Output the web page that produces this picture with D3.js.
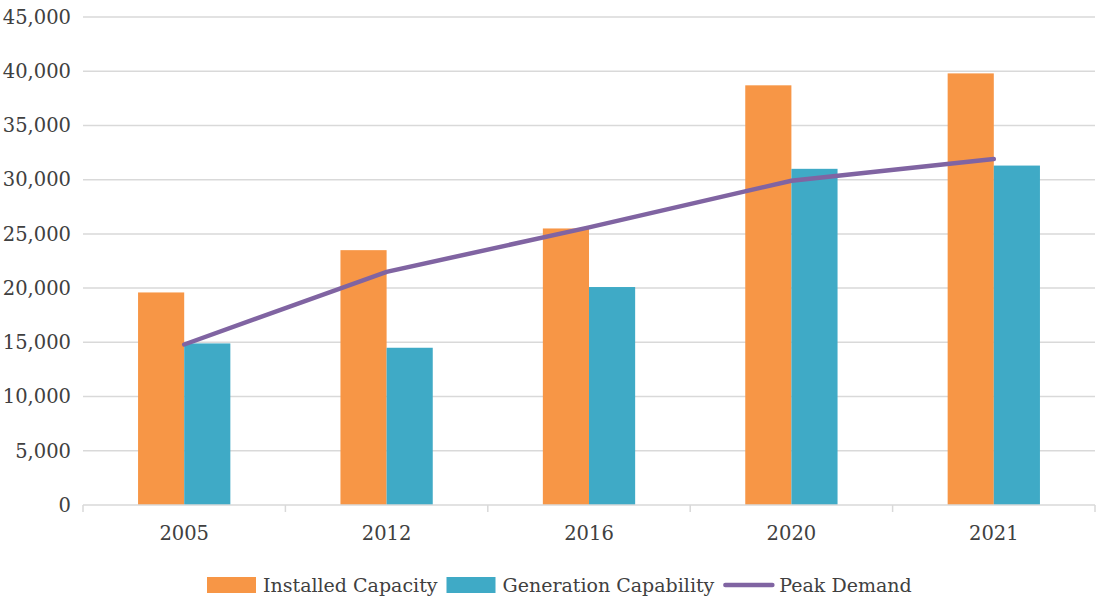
<!DOCTYPE html>
<html>
<head>
<meta charset="utf-8">
<script src="https://cdn.jsdelivr.net/npm/d3@7"></script>
<style>
  body { margin: 0; background: #fff; }
  text { font-family: "DejaVu Serif", serif; fill: #404040; }
</style>
</head>
<body>
<div id="chart"></div>
<script>
// data
var years = ["2005", "2012", "2016", "2020", "2021"];
var installed = [19600, 23500, 25500, 38700, 39800];
var generation = [14900, 14500, 20100, 31000, 31300];
var peak = [14800, 21500, 25600, 29900, 31900];
var yTicks = [0, 5000, 10000, 15000, 20000, 25000, 30000, 35000, 40000, 45000];
var seriesNames = ["Installed Capacity", "Generation Capability", "Peak Demand"];
var colors = ["#F79646", "#3FAAC6", "#8064A2"];

var W = 1102, H = 599;
var margin = {top: 17, right: 7, bottom: 94, left: 83};
var width = W - margin.left - margin.right,
    height = H - margin.top - margin.bottom;

var svg = d3.select("#chart").append("svg")
    .attr("width", W).attr("height", H);
var g = svg.append("g")
    .attr("transform", "translate(" + margin.left + "," + margin.top + ")");

var x = d3.scaleBand().domain(years).range([0, width]);
var y = d3.scaleLinear().domain([0, 45000]).range([height, 0]);
var barW = x.bandwidth() * 0.228;

// gridlines
g.selectAll(".grid").data(yTicks.slice(1)).enter().append("line")
    .attr("x1", 0).attr("x2", width)
    .attr("y1", d => y(d)).attr("y2", d => y(d))
    .attr("stroke", "#d9d9d9").attr("stroke-width", 1.5);

// y labels
g.selectAll(".ylab").data(yTicks).enter().append("text")
    .attr("x", -12).attr("y", d => y(d)).attr("dy", "0.35em")
    .attr("text-anchor", "end").style("font-size", "19.5px")
    .text(d => d3.format(",")(d));

// bars
var grp = g.selectAll(".yr").data(years).enter().append("g")
    .attr("transform", d => "translate(" + (x(d) + x.bandwidth() / 2) + ",0)");
grp.append("rect")
    .attr("x", -barW).attr("width", barW)
    .attr("y", (d, i) => y(installed[i])).attr("height", (d, i) => height - y(installed[i]))
    .attr("fill", colors[0]);
grp.append("rect")
    .attr("x", 0).attr("width", barW)
    .attr("y", (d, i) => y(generation[i])).attr("height", (d, i) => height - y(generation[i]))
    .attr("fill", colors[1]);

// x axis
var xAxis = g.append("g").attr("transform", "translate(0," + height + ")");
xAxis.append("line").attr("x1", 0).attr("x2", width)
    .attr("stroke", "#d9d9d9").attr("stroke-width", 1.5);
var bounds = years.map(d => x(d)).concat([width]);
xAxis.selectAll(".tk").data(bounds).enter().append("line")
    .attr("x1", d => d).attr("x2", d => d).attr("y1", 0).attr("y2", 7)
    .attr("stroke", "#d9d9d9").attr("stroke-width", 1.5);
xAxis.selectAll(".xlab").data(years).enter().append("text")
    .attr("x", d => x(d) + x.bandwidth() / 2).attr("y", 35)
    .attr("text-anchor", "middle").style("font-size", "19.5px")
    .text(d => d);

// peak demand line
var line = d3.line()
    .x((d, i) => x(years[i]) + x.bandwidth() / 2)
    .y(d => y(d));
g.append("path").datum(peak)
    .attr("d", line).attr("fill", "none")
    .attr("stroke", colors[2]).attr("stroke-width", 4.5)
    .attr("stroke-linecap", "round");

// legend
var leg = svg.append("g").attr("transform", "translate(0,585)");
var lx = 207;
seriesNames.forEach(function(name, i) {
  if (i < 2) {
    leg.append("rect").attr("x", lx).attr("y", -8).attr("width", 49).attr("height", 16)
        .attr("fill", colors[i]);
  } else {
    leg.append("line").attr("x1", lx + 2).attr("x2", lx + 49).attr("y1", 0).attr("y2", 0)
        .attr("stroke", colors[i]).attr("stroke-width", 4.5).attr("stroke-linecap", "round");
  }
  var t = leg.append("text").attr("x", lx + 56).attr("y", 0).attr("dy", "0.35em")
      .style("font-size", "19px").text(name);
  lx += 56 + t.node().getComputedTextLength() + 9;
});
</script>
</body>
</html>
